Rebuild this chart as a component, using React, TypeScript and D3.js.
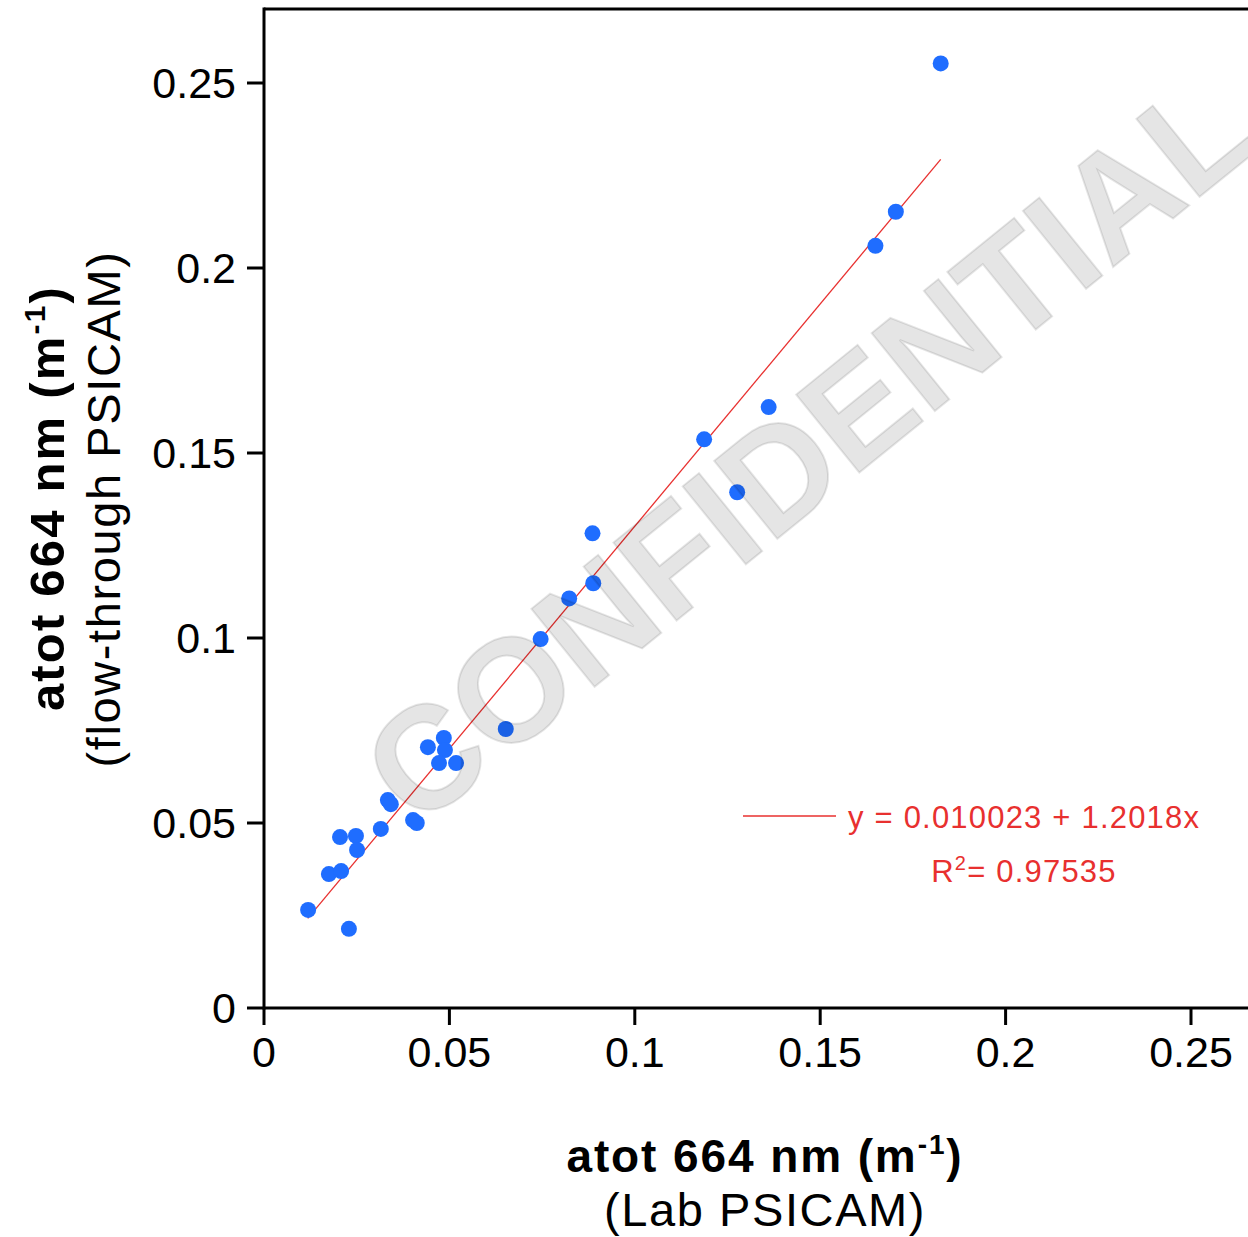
import React from "react";
import * as d3 from "d3";

const labX: number[] = [0.0119, 0.0229, 0.0175, 0.0208, 0.0205, 0.0248, 0.0251, 0.0315, 0.0334, 0.0342, 0.0402, 0.0412, 0.0442, 0.0485, 0.0488, 0.0472, 0.0518, 0.0652, 0.0746, 0.0823, 0.0888, 0.0886, 0.1276, 0.1187, 0.1361, 0.1649, 0.1704, 0.1825];
const flowY: number[] = [0.0265, 0.0214, 0.0362, 0.0370, 0.0462, 0.0465, 0.0427, 0.0484, 0.0562, 0.0551, 0.0508, 0.0500, 0.0705, 0.0730, 0.0697, 0.0662, 0.0662, 0.0754, 0.0997, 0.1107, 0.1148, 0.1283, 0.1394, 0.1537, 0.1624, 0.2060, 0.2152, 0.2553];
const tickValues: number[] = [0, 0.05, 0.1, 0.15, 0.2, 0.25];
const tickLabels: string[] = ["0", "0.05", "0.1", "0.15", "0.2", "0.25"];
const fitIntercept = 0.010023;
const fitSlope = 1.2018;
const fitRange: number[] = [0.0118, 0.1825];
const fitText = "y = 0.010023 + 1.2018x";
const r2Value = "0.97535";

const W = 1248;
const H = 1237;
const FONT = "'Liberation Sans', Arial, Helvetica, sans-serif";

export default function App() {
  const x = d3.scaleLinear().domain([0, 0.25]).range([264, 1191]);
  const y = d3.scaleLinear().domain([0, 0.25]).range([1008, 83]);
  const left = 264, top = 9, bottom = 1008;
  const red = "#e8302f";
  const blue = "#1f6dff";
  const pts = labX.map((v, i) => ({ x: v, y: flowY[i] }));
  const line = d3.line<number>().x((d) => x(d)).y((d) => y(fitIntercept + fitSlope * d));

  return (
    <svg width={W} height={H} style={{ position: "absolute", left: 0, top: 0, background: "#fff" }} fontFamily={FONT}>
      <rect x={0} y={0} width={W} height={H} fill="#fff" />
      {/* fit line */}
      <path d={line(fitRange) || ""} stroke={red} strokeWidth={1.3} fill="none" />
      {/* points */}
      {pts.map((p, i) => (
        <circle key={i} cx={x(p.x)} cy={y(p.y)} r={8} fill={blue} />
      ))}
      {/* watermark */}
      <text
        x={0}
        y={0}
        transform={`translate(806,448) rotate(-39)`}
        textAnchor="middle"
        dy="0.36em"
        fontSize={146}
        fontWeight="bold"
        fill="#000"
        fillOpacity={0.1}
        stroke="#000"
        strokeOpacity={0.1}
        strokeWidth={2}
      >
        CONFIDENTIAL
      </text>
      {/* frame */}
      <line x1={left} x2={left} y1={top - 1.5} y2={bottom + 1.5} stroke="#000" strokeWidth={3} />
      <line x1={left} x2={W} y1={top} y2={top} stroke="#000" strokeWidth={3} />
      <line x1={left} x2={W} y1={bottom} y2={bottom} stroke="#000" strokeWidth={3} />
      {/* y ticks */}
      {tickValues.map((t, i) => (
        <g key={"y" + i}>
          <line x1={left - 17} x2={left} y1={y(t)} y2={y(t)} stroke="#000" strokeWidth={3} />
          <text x={236} y={y(t)} dy="0.36em" textAnchor="end" fontSize={43} fill="#000">
            {tickLabels[i]}
          </text>
        </g>
      ))}
      {/* x ticks */}
      {tickValues.map((t, i) => (
        <g key={"x" + i}>
          <line x1={x(t)} x2={x(t)} y1={bottom} y2={bottom + 17} stroke="#000" strokeWidth={3} />
          <text x={x(t)} y={1067} textAnchor="middle" fontSize={43} fill="#000">
            {tickLabels[i]}
          </text>
        </g>
      ))}
      {/* legend */}
      <line x1={743} x2={836} y1={816} y2={816} stroke={red} strokeWidth={1.3} />
      <text x={848} y={828} fontSize={31} letterSpacing={1.2} fill={red}>
        {fitText}
      </text>
      <text x={1024} y={882} fontSize={31} letterSpacing={1.2} fill={red} textAnchor="middle">
        R<tspan dy={-12} fontSize={20}>2</tspan>
        <tspan dy={12}>= {r2Value}</tspan>
      </text>
      {/* x title */}
      <text x={765} y={1172} textAnchor="middle" fontSize={46} fontWeight="bold" letterSpacing={1.9} fill="#000">
        atot 664 nm (m<tspan dy={-18} fontSize={28}>-1</tspan>
        <tspan dy={18}>)</tspan>
      </text>
      <text x={765} y={1226} textAnchor="middle" fontSize={47} letterSpacing={1.6} fill="#000">
        (Lab PSICAM)
      </text>
      {/* y title */}
      <g transform="translate(64,498) rotate(-90)">
        <text x={0} y={0} textAnchor="middle" fontSize={49} fontWeight="bold" letterSpacing={2.2} fill="#000">
          atot 664 nm (m<tspan dy={-19} fontSize={30}>-1</tspan>
          <tspan dy={19}>)</tspan>
        </text>
      </g>
      <g transform="translate(120,509) rotate(-90)">
        <text x={0} y={0} textAnchor="middle" fontSize={47} letterSpacing={1.6} fill="#000">
          (flow-through PSICAM)
        </text>
      </g>
    </svg>
  );
}
